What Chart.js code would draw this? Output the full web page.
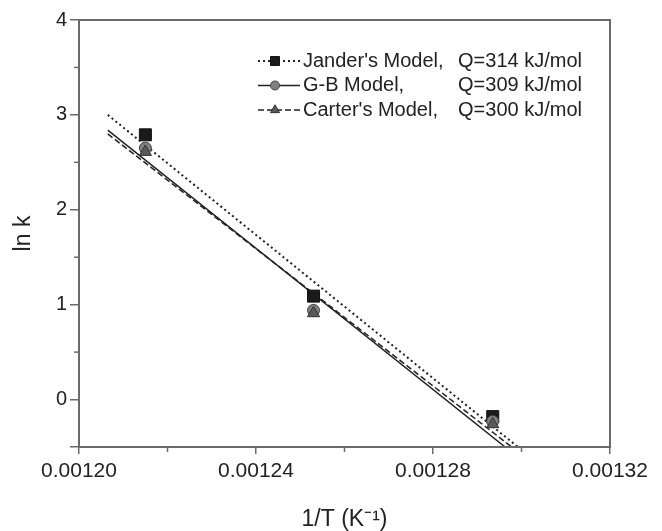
<!DOCTYPE html>
<html>
<head>
<meta charset="utf-8">
<script src="https://cdn.jsdelivr.net/npm/chart.js@4"></script>
<style>
  html, body { margin: 0; padding: 0; background: #fff; }
  #wrap { width: 662px; height: 531px; }
</style>
</head>
<body>
<div id="wrap"><canvas id="grafica" width="662" height="531"></canvas></div>
<script>
// measured points (1/T, ln k)
const invT = [0.001215, 0.001253, 0.0012935];
const janderLnK = [2.79, 1.09, -0.18];
const gbLnK = [2.65, 0.94, -0.23];
const carterLnK = [2.61, 0.91, -0.26];

// fitted lines, two ends each
const janderFitX = [0.0012065, 0.0012992];
const janderFitY = [3.00, -0.50];
const gbFitX = [0.0012065, 0.0012963];
const gbFitY = [2.84, -0.50];
const carterFitX = [0.0012065, 0.0012978];
const carterFitY = [2.80, -0.50];

const legendNames = ["Jander's Model,", "G-B Model,", "Carter's Model,"];
const legendQ = ["Q=314 kJ/mol", "Q=309 kJ/mol", "Q=300 kJ/mol"];

const FONT = "'Liberation Sans', Arial, sans-serif";
const AXIS = '#6a6a6a';
const INK = '#222';

function pts(xs, ys) {
    return xs.map((x, i) => ({ x: x, y: ys[i] }));
}

const styles = [
    { dash: [2, 3], width: 2, pointStyle: 'rect', radius: 8.5, fill: '#1a1a1a', edge: '#111' },
    { dash: [], width: 1.5, pointStyle: 'circle', radius: 6, fill: '#808080', edge: '#444' },
    { dash: [6, 3], width: 1.5, pointStyle: 'triangle', radius: 7, fill: '#5a5a5a', edge: '#333' }
];

// frame, minor ticks and the legend box
const extras = {
    id: 'extras',
    afterDraw(chart) {
        const ctx = chart.ctx;
        const a = chart.chartArea;
        ctx.save();
        ctx.strokeStyle = AXIS;
        ctx.lineWidth = 2;
        ctx.strokeRect(a.left, a.top, a.right - a.left, a.bottom - a.top);

        ctx.lineWidth = 1.5;
        const xs = chart.scales.x;
        for (let i = 0; i < xs.ticks.length - 1; i++) {
            const m = (xs.ticks[i].value + xs.ticks[i + 1].value) / 2;
            const px = xs.getPixelForValue(m);
            ctx.beginPath(); ctx.moveTo(px, a.bottom); ctx.lineTo(px, a.bottom + 5); ctx.stroke();
        }
        const ys = chart.scales.y;
        for (let i = 0; i < ys.ticks.length - 1; i++) {
            const v0 = ys.ticks[i].value, v1 = ys.ticks[i + 1].value;
            if (!Number.isInteger(v0) || !Number.isInteger(v1)) continue;
            const py = ys.getPixelForValue((v0 + v1) / 2);
            ctx.beginPath(); ctx.moveTo(a.left, py); ctx.lineTo(a.left - 5, py); ctx.stroke();
        }

        // legend
        ctx.font = '20px ' + FONT;
        ctx.textBaseline = 'middle';
        for (let i = 0; i < 3; i++) {
            const s = styles[i];
            const y = 61 + i * 24.5;
            ctx.strokeStyle = INK;
            ctx.lineWidth = s.width;
            ctx.setLineDash(s.dash);
            ctx.beginPath(); ctx.moveTo(258, y); ctx.lineTo(300, y); ctx.stroke();
            ctx.setLineDash([]);
            ctx.fillStyle = s.fill;
            ctx.strokeStyle = s.edge;
            ctx.lineWidth = 1;
            Chart.helpers.drawPoint(ctx, { pointStyle: s.pointStyle, radius: s.radius * 0.75, rotation: 0, borderWidth: 1 }, 275, y);
            ctx.fillStyle = INK;
            ctx.textAlign = 'left';
            ctx.fillText(legendNames[i], 303, y);
            ctx.textAlign = 'right';
            ctx.fillText(legendQ[i], 582, y);
        }
        ctx.restore();
    }
};

const series = [
    { label: 'Jander', fitX: janderFitX, fitY: janderFitY, lnk: janderLnK },
    { label: 'G-B', fitX: gbFitX, fitY: gbFitY, lnk: gbLnK },
    { label: 'Carter', fitX: carterFitX, fitY: carterFitY, lnk: carterLnK }
];

const datasets = [];
series.forEach((s, i) => {
    const st = styles[i];
    datasets.push({
        label: s.label + ' fit',
        data: pts(s.fitX, s.fitY),
        showLine: true,
        borderColor: INK,
        borderWidth: st.width,
        borderDash: st.dash,
        pointRadius: 0,
        order: 2
    });
});
// markers drawn so the square ends up on top
[2, 1, 0].forEach(i => {
    const st = styles[i];
    datasets.push({
        label: series[i].label,
        data: pts(invT, series[i].lnk),
        showLine: false,
        pointStyle: st.pointStyle,
        pointRadius: st.radius,
        backgroundColor: st.fill,
        borderColor: st.edge,
        borderWidth: 1,
        order: 1
    });
});

const ctx = document.getElementById('grafica').getContext('2d');
new Chart(ctx, {
    type: 'scatter',
    data: { datasets: datasets },
    options: {
        responsive: false,
        animation: false,
        layout: { padding: { top: 20, right: 52, left: 0, bottom: 0 } },
        plugins: {
            legend: { display: false },
            tooltip: { enabled: false }
        },
        scales: {
            x: {
                type: 'linear',
                min: 0.0012,
                max: 0.00132,
                afterFit: function (scale) { scale.height = 84; },
                ticks: {
                    stepSize: 0.00004,
                    padding: 5,
                    color: INK,
                    font: { family: FONT, size: 21 },
                    maxRotation: 0,
                    callback: function (v) { return v.toFixed(5); }
                },
                grid: {
                    drawOnChartArea: false,
                    drawTicks: true,
                    tickLength: 7,
                    color: AXIS,
                    lineWidth: 1.5
                },
                border: { display: true, color: AXIS, width: 2 },
                title: {
                    display: true,
                    text: '1/T (K\u207B\u00B9)',
                    color: INK,
                    font: { family: FONT, size: 23, lineHeight: 1.0 },
                    padding: { top: 0, bottom: 0 }
                }
            },
            y: {
                min: -0.5,
                max: 4,
                afterFit: function (scale) { scale.width = 79; },
                ticks: {
                    stepSize: 1,
                    padding: 3,
                    color: INK,
                    font: { family: FONT, size: 20 },
                    callback: function (v) { return Number.isInteger(v) ? v : ''; }
                },
                grid: {
                    drawOnChartArea: false,
                    drawTicks: true,
                    tickLength: 9,
                    color: AXIS,
                    lineWidth: 1.5
                },
                border: { display: true, color: AXIS, width: 2 },
                title: {
                    display: true,
                    text: 'ln k',
                    color: INK,
                    font: { family: FONT, size: 23, lineHeight: 1.2 },
                    padding: { top: 10, bottom: 0 }
                }
            }
        }
    },
    plugins: [extras]
});
</script>
</body>
</html>
